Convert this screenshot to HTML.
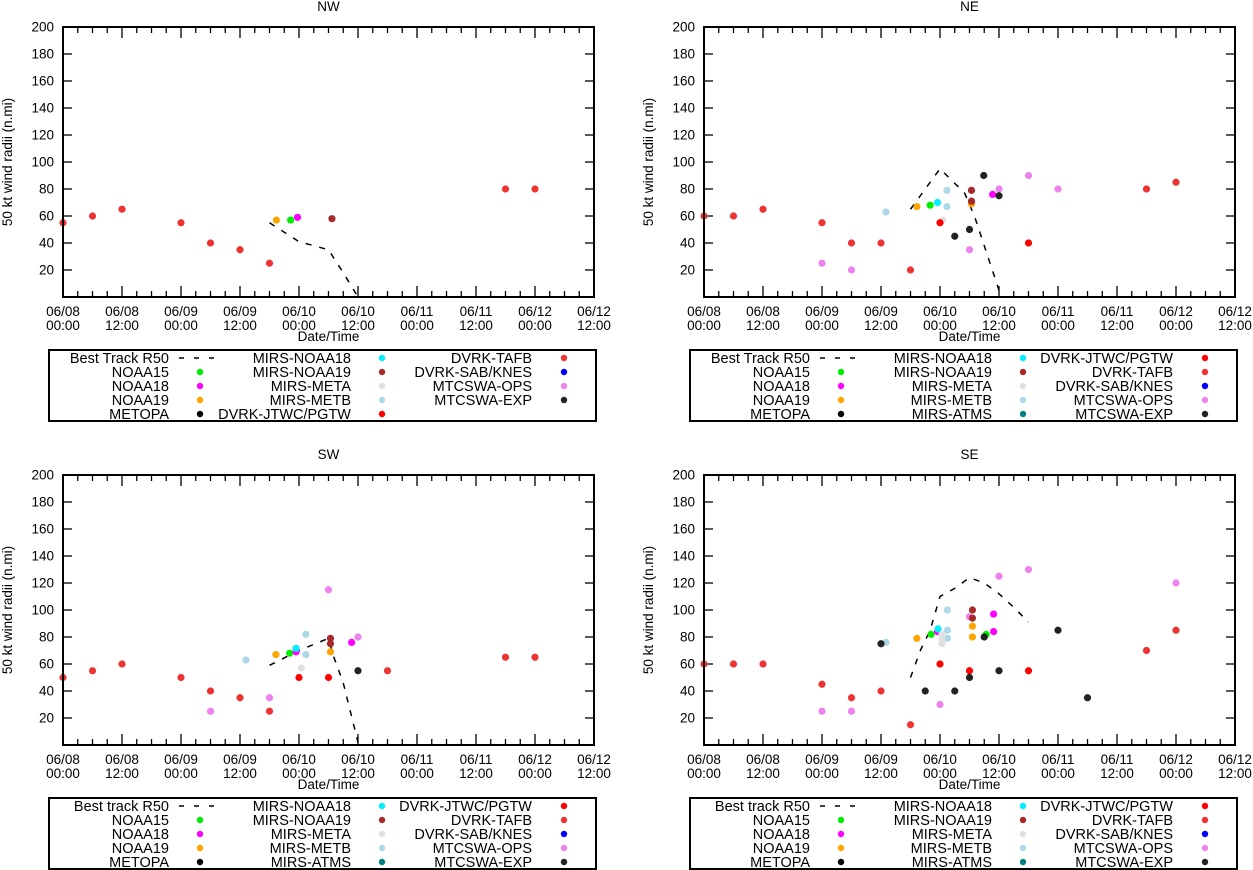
<!DOCTYPE html>
<html><head><meta charset="utf-8"><style>
html,body{margin:0;padding:0;background:#fff;}
svg{display:block;font-family:"Liberation Sans",Arial,sans-serif;}
</style></head><body>
<svg id="chart" width="1253" height="870" viewBox="0 0 1253 870" xmlns="http://www.w3.org/2000/svg"></svg>
<script>
// ---- data: [hours since 06/08 00:00, radius n.mi] ----
const xTickLabels = ["06/08|00:00","06/08|12:00","06/09|00:00","06/09|12:00","06/10|00:00","06/10|12:00","06/11|00:00","06/11|12:00","06/12|00:00","06/12|12:00"];
const yTicks = [20,40,60,80,100,120,140,160,180,200];

const nwTrack = [[42,55],[45,48],[48,41],[51,38],[54,35],[57,18],[60,0]];
const nwTafb = [[0,55],[6,60],[12,65],[24,55],[30,40],[36,35],[42,25],[90,80],[96,80]];
const nwNoaa15 = [[46.3,57]];
const nwNoaa18 = [[47.7,59]];
const nwNoaa19 = [[43.4,57]];
const nwMirsNoaa19 = [[54.7,58]];

const neTrack = [[42,65],[48,95],[53,77],[55,60],[60,5]];
const neTafb = [[0,60],[6,60],[12,65],[24,55],[30,40],[36,40],[42,20],[90,80],[96,85]];
const neJtwc = [[48,55],[66,40]];
const neOps = [[24,25],[30,20],[54,35],[60,80],[66,90],[72,80]];
const neMetb = [[37,63],[49.4,79],[49.4,67]];
const neNoaa19 = [[43.3,67],[54.4,69]];
const neNoaa15 = [[46,68]];
const neMirsNoaa18 = [[47.5,70]];
const neMeta = [[48.5,57]];
const neMirsNoaa19 = [[54.4,79],[54.4,71]];
const neNoaa18 = [[58.7,76]];
const neExp = [[56.9,90],[60,75],[51,45],[54,50]];

const swTrack = [[42,59],[48,70],[54,79],[55,66],[57,46],[60,2]];
const swTafb = [[0,50],[6,55],[12,60],[24,50],[30,40],[36,35],[42,25],[66,55],[90,65],[96,65]];
const swJtwc = [[48,50],[54,50]];
const swOps = [[30,25],[42,35],[54,115],[60,80]];
const swMetb = [[37.2,63],[49.4,82],[49.4,67]];
const swNoaa19 = [[43.3,67],[54.4,69]];
const swNoaa15 = [[46.1,68]];
const swNoaa18 = [[47.4,69],[58.7,76]];
const swMirsNoaa18 = [[47.4,71.6]];
const swMeta = [[48.5,57]];
const swMirsNoaa19 = [[54.4,79],[54.4,75]];
const swExp = [[60,55]];

const seTrack = [[42,50],[44,70],[46,85],[48,110],[51,116],[54,124],[57,120],[60,112],[63,102],[66,91]];
const seTafb = [[0,60],[6,60],[12,60],[24,45],[30,35],[36,40],[42,15],[90,70],[96,85]];
const seJtwc = [[48,60],[54,55],[66,55]];
const seOps = [[24,25],[30,25],[48,30],[54,95],[60,125],[66,130],[96,120]];
const seExp = [[36,75],[45,40],[51,40],[54,50],[57,80],[60,55],[72,85],[78,35]];
const seMetb = [[37,76],[49.5,100],[49.5,85],[49.5,79]];
const seNoaa19 = [[43.3,79],[54.6,88],[54.6,80]];
const seNoaa15 = [[46.2,82],[57.4,82]];
const seMirsNoaa18 = [[47.6,86]];
const seNoaa18 = [[47.5,84],[58.9,97],[58.9,84]];
const seMeta = [[48.4,82],[48.4,78],[48.4,75]];
const seMirsNoaa19 = [[54.6,100],[54.6,94]];

const C = {noaa15:"#00ee00",noaa18:"#ff00ff",noaa19:"#ffa500",metopa:"#000000",mn18:"#00eeff",mn19:"#a52a2a",meta:"#e0e0e0",metb:"#add8e6",atms:"#008080",jtwc:"#ff0000",tafb:"#ee3333",sab:"#0000ff",ops:"#ee82ee",exp:"#222222"};

const NS="http://www.w3.org/2000/svg";
const svg=document.getElementById('chart');
function el(tag,attrs,parent){const e=document.createElementNS(NS,tag);for(const k in attrs)e.setAttribute(k,attrs[k]);(parent||svg).appendChild(e);return e;}

function panel(key,ox,oy,title,track,series,legendCols){
  const g=el('g',{});
  
  
  const W=531,H=270;
  const xs=h=>ox+h*59/12;
  const ys=v=>oy+H-v*1.35;
  const t=el('text',{x:ox+W/2,y:oy-16,'text-anchor':'middle','font-size':13.5},g);t.textContent=title;
  
  
  const yt=el('text',{transform:`translate(${ox-51},${oy+H/2}) rotate(-90)`,'text-anchor':'middle','font-size':13.5},g);yt.textContent="50 kt wind radii (n.mi)";
  
  
  const xt=el('text',{x:ox+W/2,y:oy+H+44,'text-anchor':'middle','font-size':13.5},g);xt.textContent="Date/Time";
  
  
  for(let h=0;h<=108;h+=3){
    const major=h%12===0;const L=major?11:6;const x=xs(h);
    el('line',{x1:x,y1:oy+H,x2:x,y2:oy+H-L,stroke:'#000','stroke-width':1.3},g);
    el('line',{x1:x,y1:oy,x2:x,y2:oy+L,stroke:'#000','stroke-width':1.3},g);
  }
  xTickLabels.forEach((s,i)=>{
    const p=s.split('|');const x=xs(i*12);
    const a=el('text',{x:x,y:oy+H+19,'text-anchor':'middle','font-size':13.5},g);a.textContent=p[0];
    
    
    const b=el('text',{x:x,y:oy+H+33,'text-anchor':'middle','font-size':13.5},g);b.textContent=p[1];
  });
  yTicks.forEach(v=>{
    const y=ys(v);
    el('line',{x1:ox,y1:y,x2:ox+9,y2:y,stroke:'#000','stroke-width':1.3},g);
    el('line',{x1:ox+W,y1:y,x2:ox+W-9,y2:y,stroke:'#000','stroke-width':1.3},g);
    const a=el('text',{x:ox-9,y:y+4.5,'text-anchor':'end','font-size':13.5},g);a.textContent=v;
    
    
  });
  const tl=el('polyline',{points:track.map(p=>xs(p[0])+','+ys(p[1])).join(' '),fill:'none',stroke:'#000','stroke-width':1.5,'stroke-dasharray':'6,8'},g);
  
  
  series.forEach(s=>{
    s[1].forEach(p=>{
      const c=el('circle',{cx:xs(p[0]),cy:ys(p[1]),r:3.6,fill:s[2]},g);
      
      
    });
  });
  el('rect',{x:ox,y:oy,width:W,height:H,fill:'none',stroke:'#000','stroke-width':2},g);
  const ly=oy+H+53;
  const lg=el('g',{},g);
  
  
  el('rect',{x:ox-14,y:ly,width:547,height:71,fill:'none',stroke:'#000','stroke-width':2},lg);
  const colX=[[106,137],[288,319],[469,501]];
  legendCols.forEach((col,ci)=>{
    col.forEach((it,ri)=>{
      const cy=ly+8+14*ri;
      const tx=el('text',{x:ox+colX[ci][0],y:cy+5,'text-anchor':'end','font-size':14.5},lg);tx.textContent=it[0];
      
      
      if(it[1]==='line'){
        el('line',{x1:ox+colX[ci][0]+10,y1:cy,x2:ox+colX[ci][0]+47,y2:cy,stroke:'#000','stroke-width':1.5,'stroke-dasharray':'5,10'},lg);
      } else {
        el('circle',{cx:ox+colX[ci][1],cy:cy,r:3.2,fill:it[1]},lg);
      }
    });
  });
}

const col1=n=>[[n,'line'],['NOAA15',C.noaa15],['NOAA18',C.noaa18],['NOAA19',C.noaa19],['METOPA',C.metopa]];
const col2full=[['MIRS-NOAA18',C.mn18],['MIRS-NOAA19',C.mn19],['MIRS-META',C.meta],['MIRS-METB',C.metb],['MIRS-ATMS',C.atms]];
const col3full=[['DVRK-JTWC/PGTW',C.jtwc],['DVRK-TAFB',C.tafb],['DVRK-SAB/KNES',C.sab],['MTCSWA-OPS',C.ops],['MTCSWA-EXP',C.exp]];

panel('nw',63,27,'NW',nwTrack,[
  ['tafb',nwTafb,C.tafb],['noaa19',nwNoaa19,C.noaa19],['noaa15',nwNoaa15,C.noaa15],['noaa18',nwNoaa18,C.noaa18],['mirs-noaa19',nwMirsNoaa19,C.mn19]
],[col1('Best Track R50'),
  [['MIRS-NOAA18',C.mn18],['MIRS-NOAA19',C.mn19],['MIRS-META',C.meta],['MIRS-METB',C.metb],['DVRK-JTWC/PGTW',C.jtwc]],
  [['DVRK-TAFB',C.tafb],['DVRK-SAB/KNES',C.sab],['MTCSWA-OPS',C.ops],['MTCSWA-EXP',C.exp]]]);

panel('ne',704,27,'NE',neTrack,[
  ['tafb',neTafb,C.tafb],['ops',neOps,C.ops],['metb',neMetb,C.metb],['noaa19',neNoaa19,C.noaa19],['noaa15',neNoaa15,C.noaa15],
  ['meta',neMeta,C.meta],['mirs-noaa18',neMirsNoaa18,C.mn18],['mirs-noaa19',neMirsNoaa19,C.mn19],['noaa18',neNoaa18,C.noaa18],
  ['jtwc',neJtwc,C.jtwc],['exp',neExp,C.exp]
],[col1('Best Track R50'),col2full,col3full]);

panel('sw',63,475,'SW',swTrack,[
  ['tafb',swTafb,C.tafb],['ops',swOps,C.ops],['metb',swMetb,C.metb],['noaa19',swNoaa19,C.noaa19],['noaa15',swNoaa15,C.noaa15],
  ['noaa18',swNoaa18,C.noaa18],['mirs-noaa18',swMirsNoaa18,C.mn18],['meta',swMeta,C.meta],['mirs-noaa19',swMirsNoaa19,C.mn19],
  ['jtwc',swJtwc,C.jtwc],['exp',swExp,C.exp]
],[col1('Best track R50'),col2full,col3full]);

panel('se',704,475,'SE',seTrack,[
  ['tafb',seTafb,C.tafb],['ops',seOps,C.ops],['metb',seMetb,C.metb],['noaa19',seNoaa19,C.noaa19],['noaa15',seNoaa15,C.noaa15],
  ['noaa18',seNoaa18,C.noaa18],['mirs-noaa18',seMirsNoaa18,C.mn18],['meta',seMeta,C.meta],['mirs-noaa19',seMirsNoaa19,C.mn19],
  ['jtwc',seJtwc,C.jtwc],['exp',seExp,C.exp]
],[col1('Best track R50'),col2full,col3full]);
</script>
</body></html>
